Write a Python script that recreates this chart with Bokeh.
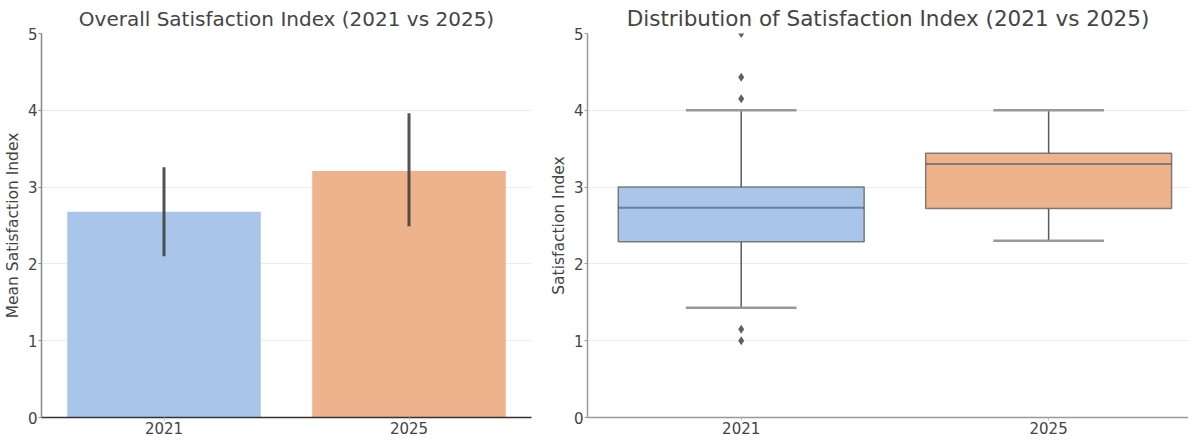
from bokeh.plotting import figure
from bokeh.layouts import row
from bokeh.models import FactorRange, Range1d, FixedTicker, ColumnDataSource
from bokeh.embed import file_html
from bokeh.resources import INLINE

# ---------------- data ----------------
years = ["2021", "2025"]
mean_index = [2.68, 3.21]
ci_low = [2.10, 2.49]
ci_high = [3.26, 3.96]

q1 = [2.29, 2.72]
median = [2.73, 3.30]
q3 = [3.00, 3.44]
whisker_low = [1.43, 2.30]
whisker_high = [4.00, 4.00]

outlier_year = ["2021", "2021", "2021", "2021", "2021"]
outlier_value = [5.0, 4.43, 4.15, 1.15, 1.0]

colors = ["#a9c6ea", "#eeb28c"]
y_ticks = [0, 1, 2, 3, 4, 5]

FONT = "DejaVu Sans"
TXT = "#444444"


def style(p, left_axis_color, bottom_axis_color, title_size, title_standoff):
    p.title.text_font = FONT
    p.title.text_font_size = title_size
    p.title.text_font_style = "normal"
    p.title.text_color = TXT
    p.title.align = "center"
    p.title.standoff = title_standoff
    p.outline_line_color = None
    p.xgrid.grid_line_color = None
    p.ygrid.grid_line_color = "#ececec"
    p.ygrid.grid_line_width = 1
    p.yaxis.ticker = FixedTicker(ticks=y_ticks)
    for ax in (p.xaxis, p.yaxis):
        ax.major_label_text_font = FONT
        ax.major_label_text_font_size = "15px"
        ax.major_label_text_color = TXT
        ax.axis_label_text_font = FONT
        ax.axis_label_text_font_size = "15.5px"
        ax.axis_label_text_font_style = "normal"
        ax.axis_label_text_color = TXT
        ax.minor_tick_line_color = None
        ax.major_tick_in = 0
        ax.major_tick_out = 3
        ax.major_label_standoff = 1
    p.yaxis.axis_line_color = left_axis_color
    p.yaxis.major_tick_line_color = left_axis_color
    p.xaxis.axis_line_color = bottom_axis_color
    p.xaxis.major_tick_line_color = "#bbbbbb"
    p.yaxis.axis_line_width = 1.5
    p.xaxis.axis_line_width = 1.5


# ---------------- left: bar chart ----------------
p1 = figure(x_range=FactorRange(*years), y_range=Range1d(0, 5),
            frame_width=490, frame_height=384,
            min_border_left=38, min_border_right=15, min_border_top=26, min_border_bottom=22,
            title="Overall Satisfaction Index (2021 vs 2025)",
            output_backend="svg", toolbar_location=None)
src1 = ColumnDataSource(dict(year=years, mean=mean_index, lo=ci_low, hi=ci_high, color=colors))
p1.vbar(x="year", top="mean", width=0.79, fill_color="color", line_color=None, source=src1)
p1.segment(x0="year", y0="lo", x1="year", y1="hi", line_color="#404040", line_width=3,
           line_alpha=0.9, source=src1)
p1.yaxis.axis_label = "Mean Satisfaction Index"
p1.yaxis.axis_label_standoff = 3
style(p1, "#888888", "#333333", "20px", 6)

# ---------------- right: box plot ----------------
xi = list(range(len(years)))
out_x = [years.index(y) for y in outlier_year]
p2 = figure(x_range=Range1d(-0.5, 1.455), y_range=Range1d(0, 5),
            frame_width=601, frame_height=384,
            min_border_left=40, min_border_right=0, min_border_top=26, min_border_bottom=22,
            title="Distribution of Satisfaction Index (2021 vs 2025)",
            output_backend="svg", toolbar_location=None)
src2 = ColumnDataSource(dict(x=xi, q1=q1, q3=q3, med=median, wl=whisker_low, wh=whisker_high,
                             color=colors,
                             cl=[v - 0.18 for v in xi], cr=[v + 0.18 for v in xi],
                             bl=[v - 0.4 for v in xi], br=[v + 0.4 for v in xi]))
edge = "#5a5a5a"
p2.segment(x0="x", y0="q3", x1="x", y1="wh", line_color=edge, line_width=1.5, source=src2)
p2.segment(x0="x", y0="wl", x1="x", y1="q1", line_color=edge, line_width=1.5, source=src2)
p2.segment(x0="cl", y0="wh", x1="cr", y1="wh", line_color="#999999", line_width=2.5, source=src2)
p2.segment(x0="cl", y0="wl", x1="cr", y1="wl", line_color="#999999", line_width=2.5, source=src2)
p2.vbar(x="x", bottom="q1", top="q3", width=0.8, fill_color="color",
        line_color=edge, line_alpha=0.75, line_width=1.5, source=src2)
p2.segment(x0="bl", y0="med", x1="br", y1="med", line_color="#4a5a70", line_alpha=0.65,
           line_width=2, source=src2)
p2.scatter(x=out_x, y=outlier_value, marker="diamond", size=9, fill_color="#444444",
           line_color=None, fill_alpha=0.85)
p2.xaxis.ticker = FixedTicker(ticks=xi)
p2.xaxis.major_label_overrides = {i: y for i, y in zip(xi, years)}
p2.yaxis.axis_label = "Satisfaction Index"
p2.yaxis.axis_label_standoff = 3
style(p2, "#999999", "#999999", "21.5px", 6)

layout = row(p1, p2)
open("out.html", "w").write(file_html(layout, INLINE))
